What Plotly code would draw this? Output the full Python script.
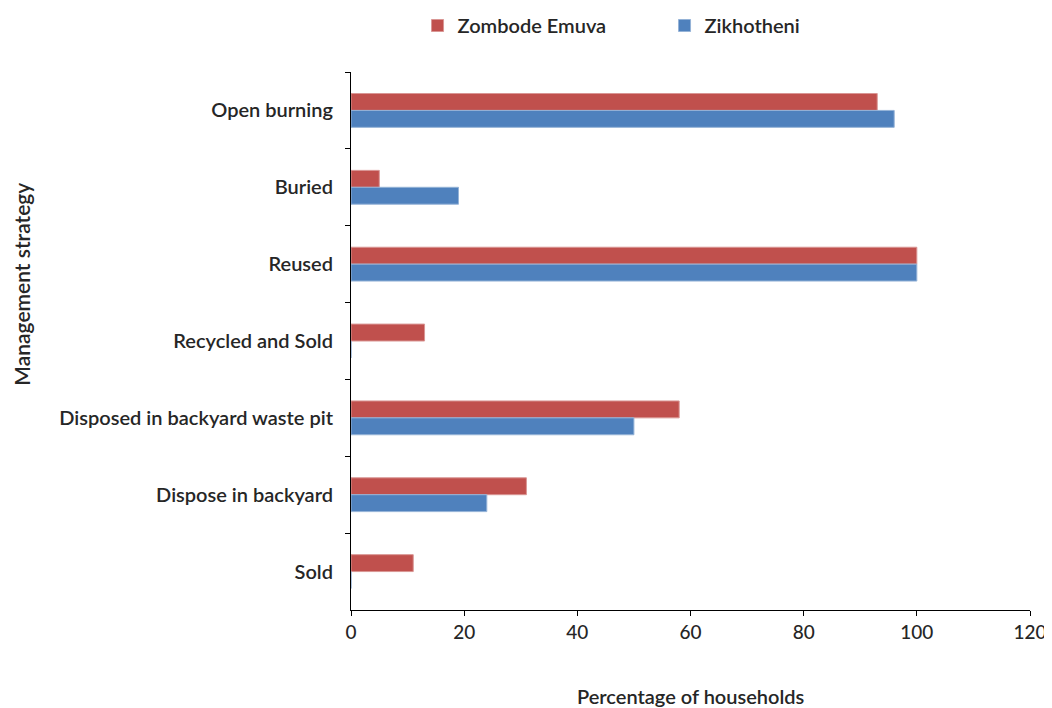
import plotly.graph_objects as go

categories = ["Open burning", "Buried", "Reused", "Recycled and Sold",
              "Disposed in backyard waste pit", "Dispose in backyard", "Sold"]
zombode = [93, 5, 100, 13, 58, 31, 11]
zikhotheni = [96, 19, 100, 0, 50, 24, 0]

font_family = "Lato, Open Sans, sans-serif"
text_color = "#262626"

fig = go.Figure()
fig.add_trace(go.Bar(
    y=categories, x=zombode, name="Zombode Emuva", orientation="h",
    marker=dict(color="#C0504D", line=dict(color="#D99694", width=1))
))
fig.add_trace(go.Bar(
    y=categories, x=zikhotheni, name="Zikhotheni", orientation="h",
    marker=dict(color="#4F81BD", line=dict(color="#95B3D7", width=1))
))

# page has an 8px body margin, so the figure is shifted to compensate
fig.update_layout(
    width=1052, height=700,
    margin=dict(l=343, r=30, t=64, b=98, autoexpand=False),
    paper_bgcolor="white", plot_bgcolor="white",
    barmode="group", bargap=0.56, bargroupgap=0,
    font=dict(family=font_family, size=20, color=text_color),
    showlegend=True,
    legend=dict(orientation="h", x=0.098, xanchor="left", y=0.975, yanchor="middle",
                yref="container", font=dict(size=20, weight=600), itemwidth=30,
                entrywidth=202, entrywidthmode="pixels",
                traceorder="normal", tracegroupgap=0),
    annotations=[
        dict(text="Percentage of households", x=0.5, xref="paper", y=-0.16, yref="paper",
             xanchor="center", yanchor="middle", showarrow=False,
             font=dict(size=20, weight=600)),
        dict(text="Management strategy", x=-0.485, xref="paper", y=0.606, yref="paper",
             xanchor="center", yanchor="middle",
             showarrow=False, textangle=-90, font=dict(size=21, weight=600)),
    ],
)

fig.update_xaxes(
    range=[0, 120], tickvals=[0, 20, 40, 60, 80, 100, 120],
    showgrid=False, zeroline=False, showline=True, linecolor="black", linewidth=1,
    ticks="outside", ticklen=5, tickcolor="black",
    tickfont=dict(size=19, weight=500),
)
fig.update_yaxes(
    categoryorder="array", categoryarray=categories, autorange="reversed",
    showgrid=False, zeroline=False, showline=True, linecolor="black", linewidth=1,
    ticks="outside", ticklen=5, tickcolor="black", tickson="boundaries",
    tickfont=dict(size=20, weight=600), ticklabelstandoff=13,
)

fig.write_html("out.html")
